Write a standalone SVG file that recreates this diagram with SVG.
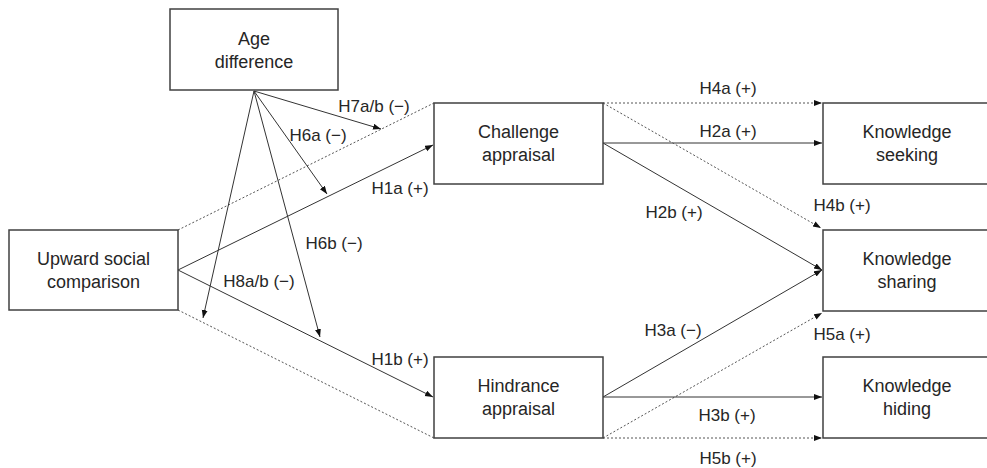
<svg xmlns="http://www.w3.org/2000/svg" width="987" height="468" viewBox="0 0 987 468">
<style>
.box{fill:#fff;stroke:#404040;stroke-width:1.5}
.nt{font-family:"Liberation Sans",Arial,sans-serif;font-size:18px;fill:#262626;text-anchor:middle}
.lb{font-family:"Liberation Sans",Arial,sans-serif;font-size:17px;fill:#262626;text-anchor:middle;dominant-baseline:central}
.s{stroke:#333;stroke-width:1;fill:none}
.d{stroke:#555;stroke-width:1;fill:none;stroke-dasharray:2 2}
</style>
<defs>
<marker id="ah" markerUnits="userSpaceOnUse" markerWidth="9" markerHeight="7" refX="8" refY="3" orient="auto">
<path d="M0,0 L8,3 L0,6 z" fill="#111"/>
</marker>
</defs>
<g id="connectors">
<line class="s" x1="178" y1="270" x2="433" y2="145" marker-end="url(#ah)"/>
<line class="s" x1="178" y1="270" x2="433" y2="397" marker-end="url(#ah)"/>
<line class="d" x1="178" y1="230" x2="434" y2="103"/>
<line class="d" x1="178" y1="310" x2="434" y2="438"/>
<line class="s" x1="254" y1="91" x2="381" y2="129" marker-end="url(#ah)"/>
<line class="s" x1="254" y1="91" x2="327" y2="194" marker-end="url(#ah)"/>
<line class="s" x1="254" y1="91" x2="203" y2="318" marker-end="url(#ah)"/>
<line class="s" x1="254" y1="91" x2="320" y2="337" marker-end="url(#ah)"/>
<line class="d" x1="603" y1="103" x2="822" y2="103" marker-end="url(#ah)"/>
<line class="s" x1="603" y1="143" x2="822" y2="143" marker-end="url(#ah)"/>
<line class="d" x1="603" y1="103" x2="821" y2="228" marker-end="url(#ah)"/>
<line class="s" x1="603" y1="143" x2="822" y2="270" marker-end="url(#ah)"/>
<line class="s" x1="603" y1="397" x2="822" y2="270" marker-end="url(#ah)"/>
<line class="d" x1="603" y1="438" x2="822" y2="313" marker-end="url(#ah)"/>
<line class="s" x1="603" y1="397" x2="822" y2="397" marker-end="url(#ah)"/>
<line class="d" x1="603" y1="438" x2="822" y2="438" marker-end="url(#ah)"/>
<text class="lb" x="374" y="106">H7a/b (−)</text>
<text class="lb" x="318" y="135">H6a (−)</text>
<text class="lb" x="400" y="188">H1a (+)</text>
<text class="lb" x="334" y="243">H6b (−)</text>
<text class="lb" x="259" y="281">H8a/b (−)</text>
<text class="lb" x="400" y="359">H1b (+)</text>
<text class="lb" x="728" y="88">H4a (+)</text>
<text class="lb" x="728" y="131">H2a (+)</text>
<text class="lb" x="674" y="212">H2b (+)</text>
<text class="lb" x="842" y="205">H4b (+)</text>
<text class="lb" x="673" y="330">H3a (−)</text>
<text class="lb" x="842" y="334">H5a (+)</text>
<text class="lb" x="727" y="415">H3b (+)</text>
<text class="lb" x="728" y="458">H5b (+)</text>
</g>
<g id="age">
<rect class="box" x="170" y="9" width="168" height="81"/>
<text class="nt" x="254" y="45">Age</text>
<text class="nt" x="254" y="68">difference</text>
</g>
<g id="upward">
<rect class="box" x="9" y="230" width="169" height="80"/>
<text class="nt" x="93.5" y="265">Upward social</text>
<text class="nt" x="93.5" y="288">comparison</text>
</g>
<g id="challenge">
<rect class="box" x="434" y="103" width="169" height="81"/>
<text class="nt" x="518.5" y="138">Challenge</text>
<text class="nt" x="518.5" y="161">appraisal</text>
</g>
<g id="hindrance">
<rect class="box" x="434" y="357" width="169" height="81"/>
<text class="nt" x="518.5" y="392">Hindrance</text>
<text class="nt" x="518.5" y="415">appraisal</text>
</g>
<g id="seeking">
<rect class="box" x="823" y="103" width="169" height="81"/>
<text class="nt" x="907" y="138">Knowledge</text>
<text class="nt" x="907" y="161">seeking</text>
</g>
<g id="sharing">
<rect class="box" x="823" y="230" width="169" height="81"/>
<text class="nt" x="907" y="265">Knowledge</text>
<text class="nt" x="907" y="288">sharing</text>
</g>
<g id="hiding">
<rect class="box" x="823" y="357" width="169" height="81"/>
<text class="nt" x="907" y="392">Knowledge</text>
<text class="nt" x="907" y="415">hiding</text>
</g>
</svg>
